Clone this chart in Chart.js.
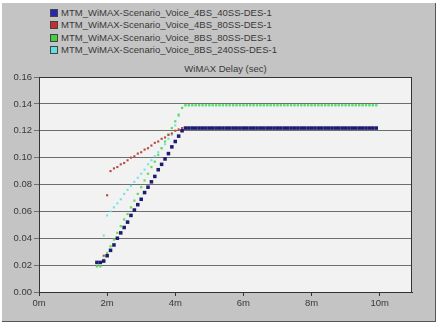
<!DOCTYPE html>
<html>
<head>
<meta charset="utf-8">
<script src="https://cdn.jsdelivr.net/npm/chart.js@4.4.0/dist/chart.umd.min.js"></script>
<style>
body { margin: 0; }
#frame { position: relative; width: 441px; height: 328px; background: #fff; overflow: hidden; font-family: Arial, "Liberation Sans", sans-serif; }
#panel { position: absolute; left: 2px; top: 3px; width: 433px; height: 318px; background: #c4c4c4; border-right: 1px solid #555; border-bottom: 1px solid #555; }
#legend { position: absolute; left: 50px; top: 7px; font-size: 9.5px; color: #383838; }
#legend div { height: 12.3px; line-height: 12px; white-space: nowrap; }
#legend span { display: inline-block; width: 6px; height: 6px; border: 1px solid #444; margin-right: 3px; vertical-align: -1px; }
#title { position: absolute; top: 63px; left: 39px; width: 373px; text-align: center; font-size: 9.5px; color: #383838; }
#delay-chart { position: absolute; left: 0; top: 0; }
</style>
</head>
<body>
<div id="frame">
  <div id="panel"></div>
  <div id="legend"></div>
  <div id="title">WiMAX Delay (sec)</div>
  <canvas id="delay-chart" width="441" height="328"></canvas>
</div>
<script>
// sample times in minutes
var times = [1.7, 1.8, 1.9,
    2.0, 2.1, 2.2, 2.3, 2.4, 2.5, 2.6, 2.7, 2.8, 2.9,
    3.0, 3.1, 3.2, 3.3, 3.4, 3.5, 3.6, 3.7, 3.8, 3.9,
    4.0, 4.1, 4.2, 4.3, 4.4, 4.5, 4.6, 4.7, 4.8, 4.9,
    5.0, 5.1, 5.2, 5.3, 5.4, 5.5, 5.6, 5.7, 5.8, 5.9,
    6.0, 6.1, 6.2, 6.3, 6.4, 6.5, 6.6, 6.7, 6.8, 6.9,
    7.0, 7.1, 7.2, 7.3, 7.4, 7.5, 7.6, 7.7, 7.8, 7.9,
    8.0, 8.1, 8.2, 8.3, 8.4, 8.5, 8.6, 8.7, 8.8, 8.9,
    9.0, 9.1, 9.2, 9.3, 9.4, 9.5, 9.6, 9.7, 9.8, 9.9];

var delay4bs40 = [0.022, 0.022, 0.023,
    0.027, 0.031, 0.035, 0.040, 0.044, 0.048, 0.052, 0.057, 0.061, 0.065,
    0.069, 0.074, 0.078, 0.082, 0.086, 0.091, 0.095, 0.099, 0.103, 0.108,
    0.112, 0.116, 0.120, 0.122, 0.122, 0.122, 0.122, 0.122, 0.122, 0.122,
    0.122, 0.122, 0.122, 0.122, 0.122, 0.122, 0.122, 0.122, 0.122, 0.122,
    0.122, 0.122, 0.122, 0.122, 0.122, 0.122, 0.122, 0.122, 0.122, 0.122,
    0.122, 0.122, 0.122, 0.122, 0.122, 0.122, 0.122, 0.122, 0.122, 0.122,
    0.122, 0.122, 0.122, 0.122, 0.122, 0.122, 0.122, 0.122, 0.122, 0.122,
    0.122, 0.122, 0.122, 0.122, 0.122, 0.122, 0.122, 0.122, 0.122, 0.122];

var delay4bs80 = [null, null, 0.027,
    0.072, 0.090, 0.092, 0.093, 0.095, 0.096, 0.098, 0.100, 0.101, 0.103,
    0.104, 0.106, 0.107, 0.109, 0.111, 0.112, 0.114, 0.115, 0.117, 0.118,
    0.120, 0.121, 0.122, 0.122, 0.122, 0.122, 0.122, 0.122, 0.122, 0.122,
    0.122, 0.122, 0.122, 0.122, 0.122, 0.122, 0.122, 0.122, 0.122, 0.122,
    0.122, 0.122, 0.122, 0.122, 0.122, 0.122, 0.122, 0.122, 0.122, 0.122,
    0.122, 0.122, 0.122, 0.122, 0.122, 0.122, 0.122, 0.122, 0.122, 0.122,
    0.122, 0.122, 0.122, 0.122, 0.122, 0.122, 0.122, 0.122, 0.122, 0.122,
    0.122, 0.122, 0.122, 0.122, 0.122, 0.122, 0.122, 0.122, 0.122, 0.122];

var delay8bs80 = [0.019, 0.019, 0.024,
    0.029, 0.034, 0.039, 0.044, 0.049, 0.054, 0.058, 0.063, 0.068, 0.073,
    0.078, 0.083, 0.088, 0.093, 0.097, 0.102, 0.107, 0.112, 0.117, 0.122,
    0.127, 0.132, 0.137, 0.139, 0.139, 0.139, 0.139, 0.139, 0.139, 0.139,
    0.139, 0.139, 0.139, 0.139, 0.139, 0.139, 0.139, 0.139, 0.139, 0.139,
    0.139, 0.139, 0.139, 0.139, 0.139, 0.139, 0.139, 0.139, 0.139, 0.139,
    0.139, 0.139, 0.139, 0.139, 0.139, 0.139, 0.139, 0.139, 0.139, 0.139,
    0.139, 0.139, 0.139, 0.139, 0.139, 0.139, 0.139, 0.139, 0.139, 0.139,
    0.139, 0.139, 0.139, 0.139, 0.139, 0.139, 0.139, 0.139, 0.139, 0.139];

var delay8bs240 = [null, null, 0.042,
    0.057, 0.060, 0.063, 0.066, 0.069, 0.073, 0.076, 0.079, 0.082, 0.085,
    0.088, 0.091, 0.095, 0.098, 0.101, 0.104, 0.107, 0.110, 0.114, 0.117,
    0.124, 0.131, 0.137, 0.139, 0.139, 0.139, 0.139, 0.139, 0.139, 0.139,
    0.139, 0.139, 0.139, 0.139, 0.139, 0.139, 0.139, 0.139, 0.139, 0.139,
    0.139, 0.139, 0.139, 0.139, 0.139, 0.139, 0.139, 0.139, 0.139, 0.139,
    0.139, 0.139, 0.139, 0.139, 0.139, 0.139, 0.139, 0.139, 0.139, 0.139,
    0.139, 0.139, 0.139, 0.139, 0.139, 0.139, 0.139, 0.139, 0.139, 0.139,
    0.139, 0.139, 0.139, 0.139, 0.139, 0.139, 0.139, 0.139, 0.139, 0.139];

var xTicks = [0, 2, 4, 6, 8, 10];

var seriesNames = ['MTM_WiMAX-Scenario_Voice_4BS_40SS-DES-1',
    'MTM_WiMAX-Scenario_Voice_4BS_80SS-DES-1',
    'MTM_WiMAX-Scenario_Voice_8BS_80SS-DES-1',
    'MTM_WiMAX-Scenario_Voice_8BS_240SS-DES-1'];
var seriesValues = [delay4bs40, delay4bs80, delay8bs80, delay8bs240];
var legendColors = ['#2626b0', '#c03030', '#40d040', '#60e0e0'];
var pointColors = ['#1c1c70', '#b84a3e', '#5ee05e', '#70e4e4'];
var pointSizes = [2.5, 1.5, 1.6, 1.5];

var legend = document.getElementById('legend');
for (var i = 0; i < seriesNames.length; i++) {
    var row = document.createElement('div');
    row.innerHTML = '<span style="background:' + legendColors[i] + '"></span>' + seriesNames[i];
    legend.appendChild(row);
}

var datasets = seriesValues.map(function(vals, i) {
    var pts = [];
    for (var k = 0; k < times.length; k++) {
        if (vals[k] !== null) pts.push({x: times[k], y: vals[k]});
    }
    return {
        label: seriesNames[i],
        data: pts,
        pointStyle: 'rect',
        pointRadius: pointSizes[i],
        pointBorderWidth: 0,
        backgroundColor: pointColors[i],
        borderColor: pointColors[i],
        showLine: false
    };
});

var plotBox = {
    id: 'plotBox',
    beforeDraw: function(chart) {
        var a = chart.chartArea, c = chart.ctx;
        c.save();
        c.fillStyle = '#f2f2f2';
        c.fillRect(a.left, a.top, a.right - a.left, a.bottom - a.top);
        c.restore();
    },
    afterDraw: function(chart) {
        var a = chart.chartArea, c = chart.ctx;
        c.save();
        c.strokeStyle = '#333';
        c.lineWidth = 1;
        c.strokeRect(a.left + 0.5, a.top + 0.5, a.right - a.left - 1, a.bottom - a.top);
        c.restore();
    }
};

var ctx = document.getElementById('delay-chart');
var myChart = new Chart(ctx, {
    type: 'scatter',
    data: { datasets: datasets },
    options: {
        responsive: false,
        animation: false,
        layout: { padding: { left: 10, right: 29, top: 77, bottom: 14 } },
        plugins: {
            legend: { display: false },
            tooltip: { enabled: false }
        },
        scales: {
            x: {
                type: 'linear',
                min: 0,
                max: 10.95,
                afterBuildTicks: function(scale) {
                    scale.ticks = xTicks.map(function(v) { return { value: v }; });
                },
                afterFit: function(scale) { scale.height = 22; },
                ticks: {
                    maxRotation: 0,
                    padding: 2,
                    color: '#383838',
                    font: { family: 'Arial', size: 9.5 },
                    callback: function(value) { return value + 'm'; }
                },
                grid: { drawOnChartArea: false, tickLength: 4, color: '#333' },
                border: { color: '#333' }
            },
            y: {
                min: 0,
                max: 0.16,
                afterFit: function(scale) { scale.width = 29; },
                ticks: {
                    stepSize: 0.02,
                    padding: 2,
                    color: '#383838',
                    font: { family: 'Arial', size: 9.5 },
                    callback: function(value) { return value.toFixed(2); }
                },
                grid: { color: '#6e6e6e', tickLength: 5 },
                border: { color: '#333' }
            }
        }
    },
    plugins: [plotBox]
});
</script>
</body>
</html>
